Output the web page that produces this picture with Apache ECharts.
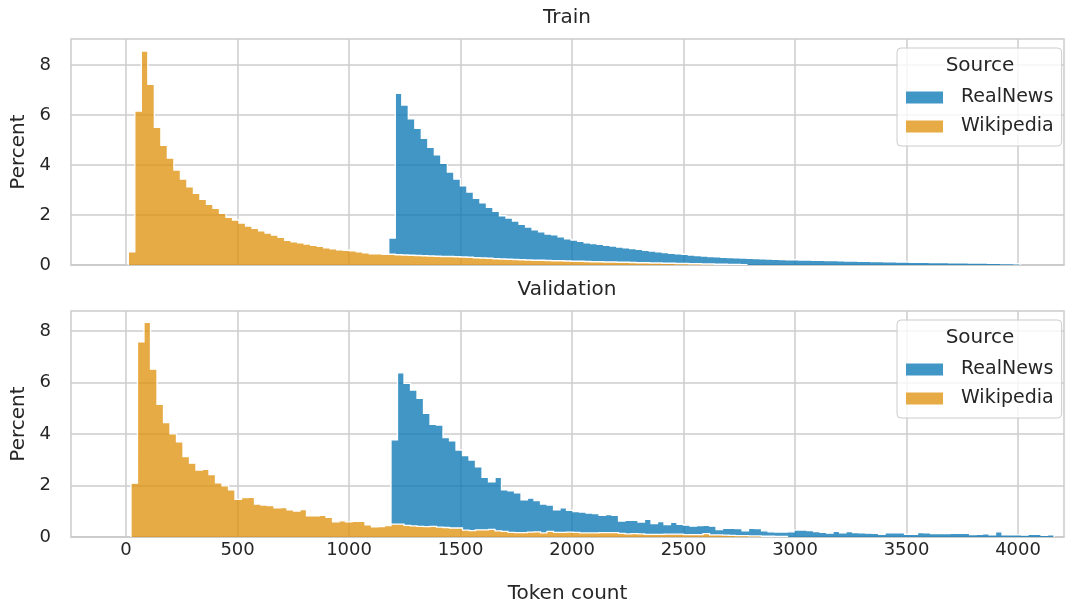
<!DOCTYPE html>
<html><head><meta charset="utf-8">
<script src="https://cdn.jsdelivr.net/npm/echarts@6/dist/echarts.min.js"></script>
<style>html,body{margin:0;padding:0;background:#fff}#chart{width:1076px;height:607px}</style>
</head><body><div id="chart"></div>
<script>
// ---- data ----
const xTicks = [0, 500, 1000, 1500, 2000, 2500, 3000, 3500, 4000];
const yTicks = [0, 2, 4, 6, 8];
const sources = ['RealNews', 'Wikipedia'];
const panels = ['Train', 'Validation'];

// Train histogram (percent per bin), equal-width bins starting at trainBinStart
const trainBinStart = 10;
const trainBinWidth = 29.2;
const trainWikipedia = [
  0.53, 6.16, 8.56, 7.23, 5.51, 4.79, 4.28, 3.80, 3.44, 3.13,
  2.87, 2.63, 2.43, 2.27, 2.07, 1.91, 1.80, 1.68, 1.56, 1.47,
  1.37, 1.28, 1.20, 1.11, 0.99, 0.93, 0.89, 0.84, 0.79, 0.75,
  0.69, 0.65, 0.61, 0.59, 0.57, 0.53, 0.49, 0.45, 0.45, 0.43,
  0.43, 0.41, 0.40, 0.39, 0.38, 0.37, 0.36, 0.35, 0.34, 0.34,
  0.33, 0.32, 0.31, 0.29, 0.28, 0.27, 0.25, 0.24, 0.23, 0.22,
  0.21, 0.20, 0.19, 0.19, 0.18, 0.17, 0.17, 0.16, 0.15, 0.15,
  0.14, 0.13, 0.13, 0.12, 0.12, 0.11, 0.11, 0.10, 0.09, 0.09,
  0.08, 0.08, 0.07, 0.07, 0.06, 0.06, 0.05, 0.05, 0.04, 0.04,
  0.03, 0.03, 0.02, 0.02, 0.01
];
const trainRealNewsFirstBin = 40;
const trainRealNews = [
  0.65, 6.46, 6.00, 5.46, 5.09, 4.70, 4.35, 4.06, 3.73, 3.38,
  3.11, 2.85, 2.61, 2.38, 2.21, 2.04, 1.90, 1.73, 1.65, 1.54,
  1.42, 1.32, 1.22, 1.14, 1.06, 1.04, 0.96, 0.89, 0.85, 0.80,
  0.75, 0.73, 0.70, 0.67, 0.64, 0.61, 0.58, 0.56, 0.54, 0.50,
  0.48, 0.45, 0.43, 0.40, 0.39, 0.37, 0.35, 0.33, 0.32, 0.30,
  0.30, 0.28, 0.28, 0.27, 0.27, 0.27, 0.26, 0.25, 0.24, 0.23,
  0.22, 0.21, 0.21, 0.20, 0.20, 0.19, 0.19, 0.18, 0.18, 0.17,
  0.16, 0.16, 0.15, 0.15, 0.14, 0.14, 0.13, 0.13, 0.12, 0.12,
  0.11, 0.11, 0.11, 0.10, 0.10, 0.10, 0.09, 0.09, 0.09, 0.08,
  0.08, 0.08, 0.07, 0.07, 0.06, 0.06, 0.05
];

// Validation histogram
const valBinStart = 22;
const valBinWidth = 29.15;
const valWikipedia = [
  2.09, 7.58, 8.34, 6.52, 5.15, 4.44, 4.01, 3.70, 3.12, 2.87,
  2.60, 2.63, 2.42, 2.10, 1.99, 1.83, 1.46, 1.53, 1.54, 1.28,
  1.24, 1.22, 1.13, 1.14, 1.05, 1.01, 1.06, 0.82, 0.82, 0.84,
  0.76, 0.59, 0.63, 0.59, 0.61, 0.61, 0.47, 0.39, 0.40, 0.44,
  0.50, 0.50, 0.45, 0.43, 0.41, 0.40, 0.41, 0.38, 0.37, 0.35,
  0.35, 0.27, 0.25, 0.28, 0.28, 0.30, 0.24, 0.22, 0.18, 0.17,
  0.17, 0.19, 0.20, 0.16, 0.22, 0.18, 0.18, 0.19, 0.18, 0.16,
  0.16, 0.16, 0.17, 0.17, 0.17, 0.14, 0.12, 0.13, 0.12, 0.10,
  0.10, 0.10, 0.11, 0.11, 0.11, 0.09, 0.09, 0.09, 0.13, 0.08,
  0.08, 0.07, 0.06, 0.05, 0.05, 0.04, 0.04, 0.03, 0.03, 0.02, 0.02
];
const valRealNewsFirstBin = 40;
const valRealNews = [
  3.27, 5.88, 5.52, 5.28, 4.98, 4.40, 3.97, 3.97, 3.49, 3.39,
  3.03, 2.89, 2.74, 2.45, 2.04, 1.84, 2.08, 1.61, 1.61, 1.55,
  1.27, 1.32, 1.21, 1.12, 1.02, 0.87, 0.95, 0.85, 0.81, 0.81,
  0.77, 0.75, 0.67, 0.70, 0.67, 0.48, 0.53, 0.52, 0.46, 0.59,
  0.42, 0.50, 0.37, 0.46, 0.38, 0.37, 0.33, 0.35, 0.32, 0.34,
  0.21, 0.27, 0.28, 0.28, 0.19, 0.30, 0.29, 0.21, 0.17, 0.17,
  0.17, 0.20, 0.27, 0.27, 0.25, 0.21, 0.18, 0.15, 0.22, 0.16,
  0.21, 0.17, 0.16, 0.15, 0.14, 0.10, 0.16, 0.16, 0.16, 0.10,
  0.10, 0.17, 0.16, 0.13, 0.13, 0.13, 0.14, 0.14, 0.14, 0.09,
  0.10, 0.12, 0.08, 0.20, 0.08, 0.08, 0.08, 0.07, 0.10, 0.10, 0.06, 0.08
];

// ---- build ----
const fills = { RealNews: 'rgba(1,115,178,0.75)', Wikipedia: 'rgba(222,143,5,0.75)' };
const swatch = { RealNews: '#4096c5', Wikipedia: '#e6ab44' };
const font = 'DejaVu Sans';
const ink = '#262626';
const grey = '#cccccc';

const panelData = [
  { start: trainBinStart, width: trainBinWidth, wiki: trainWikipedia, news: trainRealNews, newsFirst: trainRealNewsFirstBin, ymax: 9.04 },
  { start: valBinStart, width: valBinWidth, wiki: valWikipedia, news: valRealNews, newsFirst: valRealNewsFirstBin, ymax: 8.78 }
];

// stacked layers: Wikipedia at the bottom, RealNews stacked on top of it
function buildLayers(p) {
  const n = Math.max(p.wiki.length, p.newsFirst + p.news.length);
  const edges = [];
  for (let i = 0; i <= n; i++) edges.push(p.start + i * p.width);
  const wikiVal = i => (i < p.wiki.length ? p.wiki[i] : 0);
  const newsVal = i => (i >= p.newsFirst && i - p.newsFirst < p.news.length ? p.news[i - p.newsFirst] : 0);
  const layers = {
    Wikipedia: { first: 0, last: p.wiki.length - 1, lower: [], upper: [] },
    RealNews: { first: p.newsFirst, last: p.newsFirst + p.news.length - 1, lower: [], upper: [] }
  };
  for (let i = 0; i < n; i++) {
    layers.Wikipedia.lower.push(0);
    layers.Wikipedia.upper.push(wikiVal(i));
    layers.RealNews.lower.push(wikiVal(i));
    layers.RealNews.upper.push(wikiVal(i) + newsVal(i));
  }
  return { edges, layers };
}

function layerPaths(api, edges, L) {
  const top = [], bottom = [];
  for (let i = L.first; i <= L.last; i++) {
    top.push(api.coord([edges[i], L.upper[i]]), api.coord([edges[i + 1], L.upper[i]]));
    bottom.push(api.coord([edges[i], L.lower[i]]), api.coord([edges[i + 1], L.lower[i]]));
  }
  const polygon = top.concat(bottom.slice().reverse());
  const outline = [api.coord([edges[L.first], L.lower[L.first]])].concat(top,
    [api.coord([edges[L.last + 1], L.lower[L.last]])]);
  return { polygon, outline };
}

const gridTops = [39, 311];
const grids = [], xAxes = [], yAxes = [], series = [], legends = [], graphics = [];

panelData.forEach((p, gi) => {
  const { edges, layers } = buildLayers(p);
  grids.push({ left: 71, right: 12, top: gridTops[gi], height: 226, show: true,
    borderColor: grey, borderWidth: 1.5, backgroundColor: 'transparent' });
  xAxes.push({
    type: 'value', gridIndex: gi, min: -247, max: 4206,
    name: gi === 1 ? 'Token count' : '', nameLocation: 'middle', nameGap: 47,
    nameTextStyle: { fontSize: 20, color: ink, fontFamily: font },
    axisLine: { show: true, lineStyle: { color: grey, width: 1.5 } },
    axisTick: { show: false, customValues: xTicks },
    axisLabel: { show: gi === 1, customValues: xTicks, formatter: v => String(v),
      fontSize: 18, color: ink, fontFamily: font, margin: 4 },
    splitLine: { show: true, lineStyle: { color: grey, width: 1.5 } }
  });
  yAxes.push({
    type: 'value', gridIndex: gi, min: 0, max: p.ymax,
    name: 'Percent', nameLocation: 'middle', nameGap: 42,
    nameTextStyle: { fontSize: 20, color: ink, fontFamily: font },
    axisLine: { show: false },
    axisTick: { show: false, customValues: yTicks },
    axisLabel: { customValues: yTicks, formatter: v => String(v), fontSize: 18, color: ink, fontFamily: font, margin: 20 },
    splitLine: { show: true, lineStyle: { color: grey, width: 1.5 } }
  });
  // fills (one series per source)
  ['Wikipedia', 'RealNews'].forEach(name => {
    const L = layers[name];
    const items = [];
    for (let i = L.first; i <= L.last; i++) items.push([edges[i], edges[i + 1], L.lower[i], L.upper[i]]);
    series.push({
      type: 'custom', name, xAxisIndex: gi, yAxisIndex: gi, silent: true, clip: true, z: 2,
      itemStyle: { color: swatch[name] },
      encode: { x: [0, 1], y: [2, 3] },
      data: items,
      renderItem: (params, api) => {
        if (params.dataIndex !== 0) return null;
        const { polygon } = layerPaths(api, edges, L);
        return { type: 'polygon', shape: { points: polygon }, style: { fill: fills[name], stroke: null } };
      }
    });
  });
  // white step outlines on top of the fills
  series.push({
    type: 'custom', xAxisIndex: gi, yAxisIndex: gi, silent: true, clip: true, z: 3,
    encode: { x: 0, y: 1 },
    data: [[edges[0], 0]],
    renderItem: (params, api) => ({
      type: 'group',
      children: ['Wikipedia', 'RealNews'].map(name => ({
        type: 'polyline', shape: { points: layerPaths(api, edges, layers[name]).outline },
        style: { stroke: '#ffffff', lineWidth: 1.3, fill: null }
      }))
    })
  });
  legends.push({
    left: 897, top: gridTops[gi] + 9, orient: 'vertical', icon: 'rect',
    data: sources, selectedMode: false,
    itemWidth: 37, itemHeight: 12, itemGap: 10,
    padding: [40, 8, 10, 9],
    backgroundColor: 'rgba(255,255,255,0.8)', borderColor: grey, borderWidth: 1, borderRadius: 4,
    itemStyle: { borderWidth: 0 },
    textStyle: { fontSize: 19, color: ink, fontFamily: font, padding: [0, 0, 0, 13] }
  });
  graphics.push({ type: 'text', z: 100, style: { text: panels[gi], x: 567, y: gridTops[gi] - 21,
    textAlign: 'center', textVerticalAlign: 'middle', fontSize: 20, fill: ink, fontFamily: font } });
  graphics.push({ type: 'text', z: 100, style: { text: 'Source', x: 980, y: gridTops[gi] + 27,
    textAlign: 'center', textVerticalAlign: 'middle', fontSize: 20, fill: ink, fontFamily: font } });
});

const chart = echarts.init(document.getElementById('chart'), null, { renderer: 'canvas' });
chart.setOption({
  animation: false,
  backgroundColor: '#ffffff',
  grid: grids, xAxis: xAxes, yAxis: yAxes, series, legend: legends, graphic: graphics
});
</script></body></html>
